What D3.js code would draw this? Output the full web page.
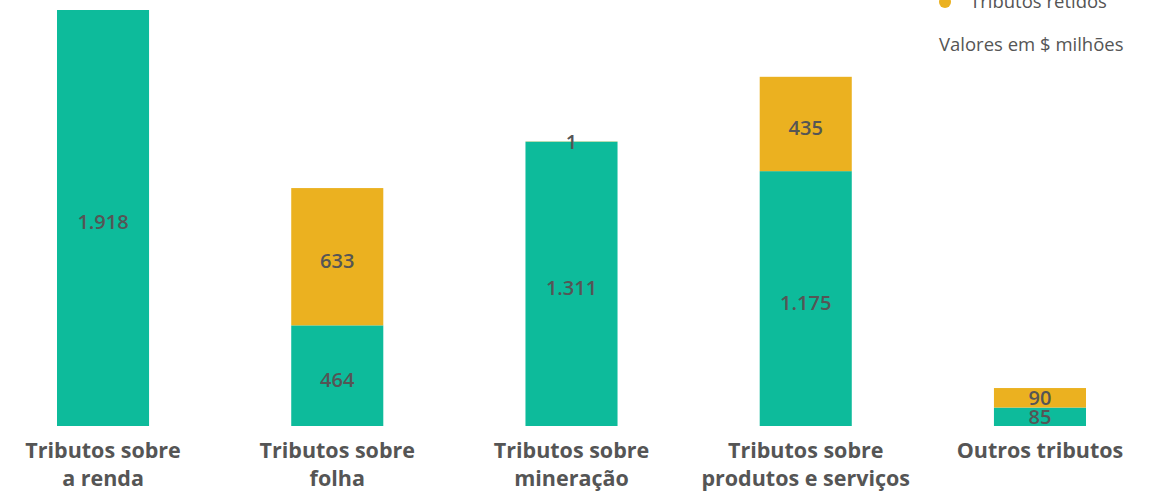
<!DOCTYPE html>
<html lang="pt">
<head>
<meta charset="utf-8" />
<title>Tributos</title>
<style>
html, body { margin: 0; padding: 0; background: #fff; }
svg { display: block; font-family: "Open Sans", "Noto Sans", sans-serif; }
.cat { font-weight: 700; font-size: 21.5px; fill: #555; }
.val { font-weight: 600; font-size: 20px; fill: #555; }
.leg { font-size: 18.5px; fill: #555; }
</style>
</head>
<body>
<div id="chart"></div>
<script src="https://cdnjs.cloudflare.com/ajax/libs/d3/7.8.5/d3.min.js"></script>
<script>
// dados (valores em $ milhões)
var categorias = [
  ["Tributos sobre", "a renda"],
  ["Tributos sobre", "folha"],
  ["Tributos sobre", "mineração"],
  ["Tributos sobre", "produtos e serviços"],
  ["Outros tributos"]
];
var pagos   = [1918, 464, 1311, 1175, 85];
var retidos = [0, 633, 1, 435, 90];

var corPagos = "#0dbb9b", corRetidos = "#ebb120";

var W = 1165, H = 491;
var svg = d3.select("#chart").append("svg")
  .attr("width", W).attr("height", H);

var x = d3.scaleBand()
  .domain(d3.range(categorias.length))
  .range([57, 1086])
  .paddingInner(0.607)
  .paddingOuter(0);

var y = d3.scaleLinear()
  .domain([0, 1918])
  .range([426, 10]);

var cores = [corPagos, corRetidos];

var rows = categorias.map(function(c, i) {
  return { i: i, pagos: pagos[i], retidos: retidos[i] };
});
var stack = d3.stack().keys(["pagos", "retidos"])(rows);

var g = svg.append("g");
stack.forEach(function(layer, k) {
  var dados = layer.filter(function(d) { return d[1] - d[0] > 0; });
  g.selectAll(".bar-" + k)
    .data(dados)
    .enter().append("rect")
    .attr("x", function(d) { return x(d.data.i); })
    .attr("width", x.bandwidth())
    .attr("y", function(d) { return y(d[1]); })
    .attr("height", function(d) { return y(d[0]) - y(d[1]); })
    .attr("fill", cores[k]);

  g.selectAll(".lbl-" + k)
    .data(dados)
    .enter().append("text")
    .attr("class", "val")
    .attr("x", function(d) { return x(d.data.i) + x.bandwidth() / 2; })
    .attr("y", function(d) {
      var h = y(d[0]) - y(d[1]);
      return (y(d[0]) + y(d[1])) / 2 + (h > 60 ? 4 : 0);
    })
    .attr("dy", "0.35em")
    .attr("text-anchor", "middle")
    .text(function(d) { return d3.format(",")(d[1] - d[0]).replace(/,/g, "."); });
});

// rótulos das categorias
categorias.forEach(function(linhas, i) {
  var cx = x(i) + x.bandwidth() / 2;
  var t = svg.append("text")
    .attr("class", "cat")
    .attr("text-anchor", "middle")
    .attr("x", cx)
    .attr("y", 458);
  linhas.forEach(function(l, j) {
    t.append("tspan")
      .attr("x", cx)
      .attr("dy", j === 0 ? 0 : 28)
      .text(l);
  });
});

// legenda (parcialmente cortada no topo)
svg.append("circle").attr("cx", 945).attr("cy", 2).attr("r", 6).attr("fill", corRetidos);
svg.append("text").attr("class", "leg").attr("x", 970).attr("y", 8).text("Tributos retidos");
svg.append("text").attr("class", "leg").attr("x", 939).attr("y", 51).text("Valores em $ milhões");
</script>
</body>
</html>
